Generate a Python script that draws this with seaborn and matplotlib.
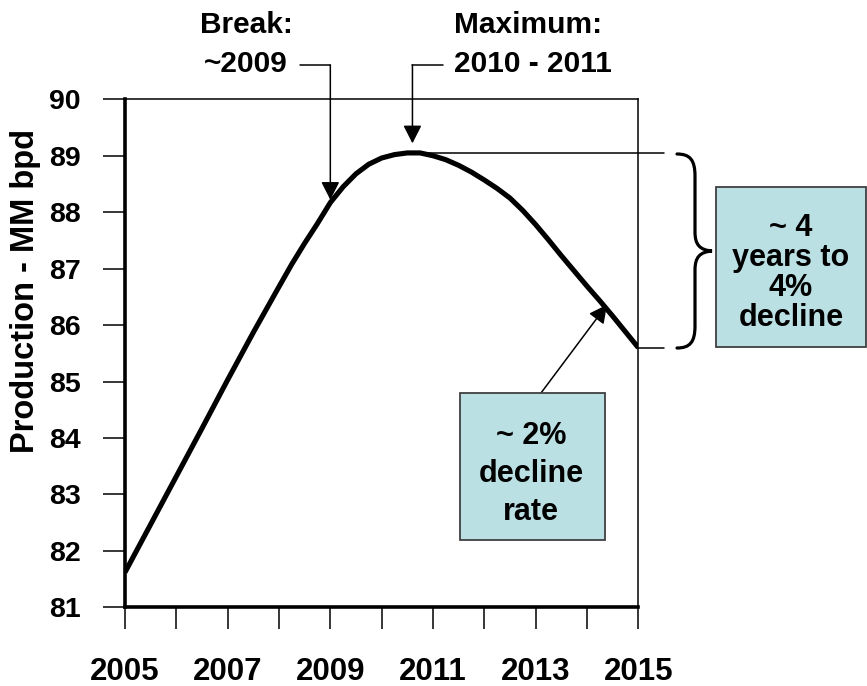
import numpy as np
import pandas as pd
import matplotlib
matplotlib.use("Agg")
import matplotlib.pyplot as plt
import seaborn as sns
from matplotlib.path import Path
from matplotlib.patches import PathPatch, Rectangle

# ---------------- data ----------------
years = [2005.0, 2005.5, 2006.0, 2006.5, 2007.0, 2007.5, 2008.0, 2008.25, 2008.5,
         2008.75, 2009.0, 2009.25, 2009.5, 2009.75, 2010.0, 2010.25, 2010.5, 2010.75,
         2011.0, 2011.25, 2011.5, 2011.75, 2012.0, 2012.25, 2012.5, 2012.75, 2013.0,
         2013.25, 2013.5, 2013.75, 2014.0, 2014.25, 2014.5, 2014.75, 2015.0]
production = [81.62, 82.47, 83.32, 84.17, 85.03, 85.87, 86.68, 87.08, 87.45,
              87.80, 88.17, 88.45, 88.68, 88.85, 88.96, 89.02, 89.05, 89.05,
              89.00, 88.93, 88.83, 88.71, 88.57, 88.42, 88.25, 88.03, 87.78,
              87.51, 87.23, 86.96, 86.69, 86.43, 86.16, 85.88, 85.60]
x_ticks = list(range(2005, 2016))
x_tick_labels = [str(y) if y % 2 == 1 else "" for y in x_ticks]
y_ticks = list(range(81, 91))
y_label = "Production - MM bpd"
break_label = "Break:\n~2009"
max_label = "Maximum:\n2010 - 2011"
decline_box = "~ 2%\ndecline\nrate"
years_box = "~ 4\nyears to\n4%\ndecline"
break_year = 2009.0
max_year = 2010.6

df = pd.DataFrame({"year": years, "production": production})

# ---------------- style ----------------
sns.set_style("white")
plt.rcParams["font.family"] = ["Liberation Sans", "DejaVu Sans"]
plt.rcParams["font.weight"] = "bold"
plt.rcParams["text.color"] = "black"
plt.rcParams["axes.labelcolor"] = "black"
plt.rcParams["xtick.color"] = "black"
plt.rcParams["ytick.color"] = "black"

W, H = 867, 686
fig = plt.figure(figsize=(W / 100, H / 100), dpi=100)


def fx(px):
    return px / W


def fy(py):
    return 1 - py / H


ax = fig.add_axes([fx(125), fy(607.3), (638.3 - 125) / W, (607.3 - 99.3) / H])

sns.lineplot(data=df, x="year", y="production", ax=ax, color="black",
             linewidth=3.7, solid_joinstyle="round", solid_capstyle="butt")

ax.set_xlim(2005, 2015)
ax.set_ylim(81, 90)
ax.set_xticks(x_ticks)
ax.set_xticklabels(x_tick_labels)
ax.set_yticks(y_ticks)
ax.set_xlabel("")
ax.set_ylabel("")
ax.tick_params(axis="both", which="major", bottom=True, left=True,
               direction="out", length=16, width=1.1, color="black",
               labelcolor="black")
ax.tick_params(axis="x", pad=20, labelsize=22.5)
ax.tick_params(axis="y", pad=16, labelsize=20.5)
for lab in ax.get_xticklabels() + ax.get_yticklabels():
    lab.set_fontweight("bold")

for side in ["left", "bottom"]:
    ax.spines[side].set_linewidth(2.6)
    ax.spines[side].set_color("black")
for side in ["top", "right"]:
    ax.spines[side].set_linewidth(1.1)
    ax.spines[side].set_color("black")
    ax.spines[side].set_visible(True)

fig.text(fx(26), fy(291), y_label, rotation=90, ha="center", va="center",
         fontsize=23.5, fontweight="bold", color="black")

# ---------------- reference lines (peak & end) ----------------
peak_val = max(production)
end_val = production[-1]
ax.plot([2010.7, 2015.5], [peak_val, peak_val], color="black", lw=1.1,
        clip_on=False, zorder=1)
ax.plot([2015, 2015.5], [end_val, end_val], color="black", lw=1.1,
        clip_on=False, zorder=1)

# ---------------- brace ----------------
bx0, bxm, bxt = 677, 695, 712
byt, bym, byb = 154, 251, 348
verts_px = [(bx0, byt), (690, byt), (bxm, 160), (bxm, 176),
            (bxm, 232),
            (bxm, 245), (700, bym - 1), (bxt, bym),
            (700, bym + 1), (bxm, 257), (bxm, 270),
            (bxm, 326),
            (bxm, 342), (690, byb), (bx0, byb)]
codes = [Path.MOVETO, Path.CURVE4, Path.CURVE4, Path.CURVE4,
         Path.LINETO,
         Path.CURVE4, Path.CURVE4, Path.CURVE4,
         Path.CURVE4, Path.CURVE4, Path.CURVE4,
         Path.LINETO,
         Path.CURVE4, Path.CURVE4, Path.CURVE4]
verts = [(fx(a), fy(b)) for a, b in verts_px]
brace = PathPatch(Path(verts, codes), facecolor="none", edgecolor="black",
                  lw=2.3, transform=fig.transFigure, capstyle="round")
fig.add_artist(brace)

# ---------------- boxes ----------------
box_color = "#BBE0E3"
edge_color = "#404040"
fig.add_artist(Rectangle((fx(716), fy(347)), (866 - 716) / W, (347 - 187) / H,
                         transform=fig.transFigure, facecolor=box_color,
                         edgecolor=edge_color, lw=1.3))
fig.text(fx(791), fy(273), years_box, ha="center", va="center", fontsize=22,
         fontweight="bold", linespacing=1.0, color="black")

fig.add_artist(Rectangle((fx(460), fy(540)), (605 - 460) / W, (540 - 393) / H,
                         transform=fig.transFigure, facecolor=box_color,
                         edgecolor=edge_color, lw=1.3, zorder=3))
fig.text(fx(531), fy(474), decline_box, ha="center", va="center", fontsize=22,
         fontweight="bold", linespacing=1.36, zorder=4, color="black")

# arrow from decline box to curve
arrow_kw = dict(arrowstyle="-|>,head_length=0.55,head_width=0.28", color="black",
                lw=1.1, shrinkA=0, shrinkB=0, mutation_scale=20)
ax.annotate("", xy=(2014.39, 86.36), xycoords="data",
            xytext=(fx(541), fy(393)), textcoords="figure fraction",
            arrowprops=arrow_kw, annotation_clip=False)

# ---------------- break / maximum callouts ----------------
top_val = 90 + (99.3 - 65) / 56.3
i_break = years.index(break_year)
ax.plot([2008.41, break_year], [top_val, top_val], color="black", lw=1.1,
        clip_on=False)
ax.annotate("", xy=(break_year, production[i_break] + 0.05), xycoords="data",
            xytext=(break_year, top_val), textcoords="data",
            arrowprops=arrow_kw, annotation_clip=False)
ax.plot([max_year, 2011.2], [top_val, top_val], color="black", lw=1.1,
        clip_on=False)
ax.annotate("", xy=(max_year, peak_val + 0.17), xycoords="data",
            xytext=(max_year, top_val), textcoords="data",
            arrowprops=arrow_kw, annotation_clip=False)

fig.text(fx(246), fy(44.5), break_label, ha="center", va="center", fontsize=21.5,
         fontweight="bold", linespacing=1.5, color="black")
fig.text(fx(454), fy(44.5), max_label, ha="left", va="center", fontsize=21.5,
         fontweight="bold", linespacing=1.5, color="black")

fig.savefig("out.png", dpi=100)
